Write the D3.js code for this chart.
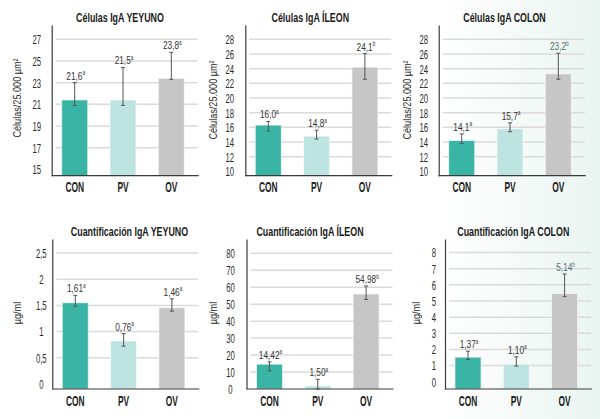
<!DOCTYPE html>
<html>
<head>
<meta charset="utf-8">
<script src="https://cdn.jsdelivr.net/npm/d3@7"></script>
<style>
  html, body { margin: 0; padding: 0; background: #fff; }
  svg { display: block; font-family: "Liberation Sans", Arial, sans-serif; }
</style>
</head>
<body>
<svg id="chart" width="600" height="419"></svg>
<script>
const categories = ['CON', 'PV', 'OV'];
const barColors = ['#3ab4a4', '#bee4e2', '#c6c6c6'];

// Células IgA (células/25.000 µm2)
const yeyunoCells = [21.4, 21.4, 23.4];
const yeyunoCellsErr = [[20.9, 23.0], [20.9, 24.4], [23.3, 25.8]];
const yeyunoCellsText = ['21,6', '21,5', '23,8'];
const yeyunoCellsSig = ['a', 'a', 'a'];

const ileonCells = [16.3, 14.8, 24.2];
const ileonCellsErr = [[15.5, 16.8], [14.4, 15.6], [22.55, 26.05]];
const ileonCellsText = ['16,0', '14,8', '24,1'];
const ileonCellsSig = ['a', 'a', 'b'];

const colonCells = [14.2, 15.8, 23.3];
const colonCellsErr = [[13.8, 15.1], [15.4, 16.6], [22.55, 26.1]];
const colonCellsText = ['14,1', '15,7', '23,2'];
const colonCellsSig = ['a', 'a', 'b'];

// Cuantificación IgA (µg/ml)
const yeyunoQuant = [1.55, 0.82, 1.455];
const yeyunoQuantErr = [[1.485, 1.69], [0.72, 0.96], [1.39, 1.625]];
const yeyunoQuantText = ['1,61', '0,76', '1,46'];
const yeyunoQuantSig = ['a', 'a', 'a'];

const ileonQuant = [14.6, 1.9, 56];
const ileonQuantErr = [[10.7, 16], [0, 5.7], [52.8, 60.7]];
const ileonQuantText = ['14,42', '1,50', '54,98'];
const ileonQuantSig = ['a', 'a', 'b'];

const colonQuant = [1.52, 1.09, 5.46];
const colonQuantErr = [[1.38, 1.89], [0.97, 1.54], [5.27, 6.67]];
const colonQuantText = ['1,37', '1,10', '5,14'];
const colonQuantSig = ['a', 'a', 'b'];

// tick labels
const cellTicks15 = [15, 17, 19, 21, 23, 25, 27];
const cellTicks10 = [10, 12, 14, 16, 18, 20, 22, 24, 26, 28];
const yeyunoQuantTicks = [0, 0.5, 1, 1.5, 2, 2.5];
const ileonQuantTicks = [0, 10, 20, 30, 40, 50, 60, 70, 80];
const colonQuantTicks = [0, 1, 2, 3, 4, 5, 6, 7, 8];

const cellsTitle = 'Células/25.000 µm²';
const quantTitle = 'µg/ml';

// layout of the six panels
const panels = [
  { title: 'Células IgA YEYUNO', yTitle: cellsTitle, values: yeyunoCells, err: yeyunoCellsErr, text: yeyunoCellsText, sig: yeyunoCellsSig,
    ticks: cellTicks15, domain: [14.41, 28.32], x0: 51.7, top: 25, base: 175.7, tickOff: 15, titleX: 120, yTitleX: 17, yTitleY: 98 },
  { title: 'Células IgA ÍLEON', yTitle: cellsTitle, values: ileonCells, err: ileonCellsErr, text: ileonCellsText, sig: ileonCellsSig,
    ticks: cellTicks10, domain: [9.4, 29.95], x0: 245.3, top: 25, base: 175.7, tickOff: 15.5, titleX: 310.3, yTitleX: 213, yTitleY: 100 },
  { title: 'Células IgA COLON', yTitle: cellsTitle, values: colonCells, err: colonCellsErr, text: colonCellsText, sig: colonCellsSig,
    ticks: cellTicks10, domain: [9.4, 29.95], x0: 438.7, top: 25, base: 175.7, tickOff: 15, titleX: 504.5, yTitleX: 407.5, yTitleY: 100, dim: true },
  { title: 'Cuantificación IgA YEYUNO', yTitle: quantTitle, values: yeyunoQuant, err: yeyunoQuantErr, text: yeyunoQuantText, sig: yeyunoQuantSig,
    ticks: yeyunoQuantTicks, domain: [-0.1, 2.77], x0: 52.3, top: 239, base: 389, tickOff: 11, titleX: 129.5, yTitleX: 17, yTitleY: 313 },
  { title: 'Cuantificación IgA ÍLEON', yTitle: quantTitle, values: ileonQuant, err: ileonQuantErr, text: ileonQuantText, sig: ileonQuantSig,
    ticks: ileonQuantTicks, domain: [0, 88.4], x0: 246.5, top: 239, base: 389, tickOff: 16, titleX: 310, yTitleX: 213, yTitleY: 313 },
  { title: 'Cuantificación IgA COLON', yTitle: quantTitle, values: colonQuant, err: colonQuantErr, text: colonQuantText, sig: colonQuantSig,
    ticks: colonQuantTicks, domain: [-0.45, 8.84], x0: 445, top: 239, base: 389, tickOff: 11, titleX: 513.3, yTitleX: 416, yTitleY: 313, dim: true }
];

const svg = d3.select('#chart');

// pale mint wash on the right edge
const defs = svg.append('defs');
const grad = defs.append('linearGradient').attr('id', 'wash').attr('x1', 0).attr('x2', 1).attr('y1', 0).attr('y2', 0);
grad.append('stop').attr('offset', '0%').attr('stop-color', '#ffffff');
grad.append('stop').attr('offset', '74%').attr('stop-color', '#ffffff');
grad.append('stop').attr('offset', '100%').attr('stop-color', '#e9f4f0');
svg.append('rect').attr('width', 600).attr('height', 419).attr('fill', 'url(#wash)');

const fmt = d => String(d).replace('.', ',');

// condensed text: scale glyphs horizontally
function ctext(parent, x, y, str, o) {
  return parent.append('text')
    .attr('transform', `translate(${x},${y})${o.rotate ? ' rotate(-90)' : ''} scale(${o.sx},1)`)
    .attr('text-anchor', 'middle')
    .attr('font-size', o.size + 'px')
    .attr('font-weight', o.bold ? 700 : 400)
    .attr('fill', o.fill || '#222')
    .text(str);
}

panels.forEach(p => {
  const g = svg.append('g');

  const x = d3.scaleBand()
    .domain(categories)
    .range([p.x0, p.x0 + 142.6])
    .paddingInner(0.4617)
    .paddingOuter(0.207);

  const y = d3.scaleLinear()
    .domain(p.domain)
    .range([p.base, p.top]);

  // gridlines (all but the lowest tick)
  g.selectAll('.grid')
    .data(p.ticks.slice(1))
    .join('line')
    .attr('x1', p.x0 + 4).attr('x2', p.x0 + 146)
    .attr('y1', d => y(d)).attr('y2', d => y(d))
    .attr('stroke', '#dadada')
    .attr('stroke-width', 1.5);

  // bars
  g.selectAll('.bar')
    .data(p.values)
    .join('rect')
    .attr('x', (d, i) => x(categories[i]))
    .attr('width', x.bandwidth())
    .attr('y', d => y(d))
    .attr('height', d => p.base - y(d))
    .attr('fill', (d, i) => barColors[i])
    .attr('stroke', 'rgba(255,255,255,0.6)')
    .attr('stroke-width', 1);

  // error bars
  p.err.forEach((e, i) => {
    const cx = x(categories[i]) + x.bandwidth() / 2;
    const eg = g.append('g').attr('stroke', '#555').attr('stroke-width', 1);
    eg.append('line').attr('x1', cx).attr('x2', cx).attr('y1', y(e[0])).attr('y2', y(e[1]));
    eg.append('line').attr('x1', cx - 2).attr('x2', cx + 2).attr('y1', y(e[0])).attr('y2', y(e[0]));
    eg.append('line').attr('x1', cx - 2).attr('x2', cx + 2).attr('y1', y(e[1])).attr('y2', y(e[1]));

    const t = ctext(g, cx + 1, y(e[1]) - 3, '', { sx: 0.72, size: 11.5, fill: p.dim && i === 2 ? '#4f6e6a' : '#333' });
    t.append('tspan').text(p.text[i]);
    t.append('tspan').attr('font-size', '6.5px').attr('dy', -4.5).text(p.sig[i]);

    ctext(g, cx, p.base + 16.5, categories[i], { sx: 0.6, size: 14, bold: true, fill: '#1a1a1a' });
  });

  // y axis
  const axis = g.append('g')
    .attr('transform', `translate(${p.x0},0)`)
    .call(d3.axisLeft(y).tickValues(p.ticks).tickSize(0).tickSizeOuter(0).tickFormat(fmt));
  axis.select('.domain').attr('stroke', '#3a3a3a').attr('stroke-width', 1.2);
  axis.selectAll('.tick text')
    .attr('x', 0)
    .attr('dy', '0.35em')
    .attr('text-anchor', 'middle')
    .attr('transform', `translate(${-p.tickOff},0) scale(0.62,1)`)
    .attr('font-family', null)
    .attr('font-size', '12.5px')
    .attr('fill', '#2a2a2a');

  // baseline
  g.append('line')
    .attr('x1', p.x0).attr('x2', p.x0 + 147)
    .attr('y1', p.base).attr('y2', p.base)
    .attr('stroke', '#3a3a3a')
    .attr('stroke-width', 1.2);

  // titles
  ctext(g, p.titleX, p.top - 3, p.title, { sx: 0.74, size: 12, bold: true, fill: '#1a1a1a' });
  ctext(g, p.yTitleX, p.yTitleY, p.yTitle, { sx: 0.83, size: 11, rotate: true, fill: '#2a2a2a' })
    .attr('dy', '0.35em');
});
</script>
</body>
</html>
